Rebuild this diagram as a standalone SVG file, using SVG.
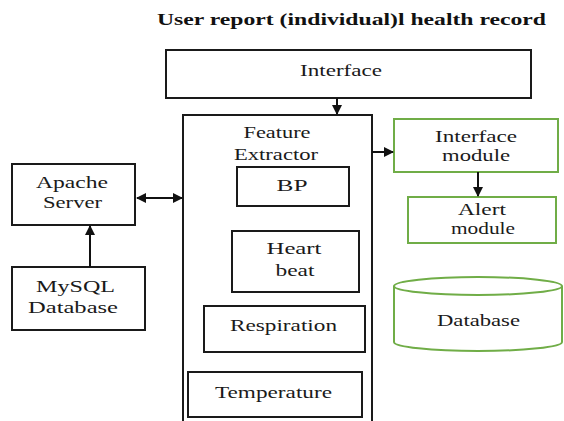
<svg xmlns="http://www.w3.org/2000/svg" width="564" height="421" viewBox="0 0 564 421">
<style>
.box{fill:#fff;stroke:#1a1a1a;stroke-width:2}
.gbox{fill:#fff;stroke:#70ad47;stroke-width:2}
.t{font-family:"Liberation Serif","DejaVu Serif","Times New Roman",serif;font-size:17px;fill:#1a1a1a;text-anchor:middle}
.t2{font-size:16px}
.title{font-family:"Liberation Serif","DejaVu Serif","Times New Roman",serif;font-size:17px;font-weight:bold;fill:#111}
.c{stroke:#111;stroke-width:2;fill:none}
</style>
<defs>
<marker id="ah" viewBox="0 0 10 10" refX="9" refY="5" markerWidth="5" markerHeight="5" orient="auto-start-reverse" markerUnits="strokeWidth">
<path d="M0,0 L10,5 L0,10 Z" fill="#111"/>
</marker>
</defs>
<rect width="564" height="421" fill="#fff"/>
<text class="title" x="157" y="25" textLength="389" lengthAdjust="spacingAndGlyphs">User report (individual)l health record</text>

<g id="interface">
<rect class="box" x="166" y="50" width="365" height="48"/>
<text class="t" x="341" y="76" textLength="82" lengthAdjust="spacingAndGlyphs">Interface</text>
</g>
<g id="feature-extractor">
<rect class="box" x="183" y="115" width="189" height="320"/>
<text class="t" x="277" y="138" textLength="67" lengthAdjust="spacingAndGlyphs">Feature</text>
<text class="t" x="276" y="160" textLength="84" lengthAdjust="spacingAndGlyphs">Extractor</text>
</g>
<g id="bp">
<rect class="box" x="237" y="167" width="112" height="39"/>
<text class="t" x="292" y="191" textLength="31" lengthAdjust="spacingAndGlyphs">BP</text>
</g>
<g id="heart-beat">
<rect class="box" x="232" y="231" width="127" height="61"/>
<text class="t" x="294" y="254" textLength="55" lengthAdjust="spacingAndGlyphs">Heart</text>
<text class="t" x="295" y="276" textLength="39" lengthAdjust="spacingAndGlyphs">beat</text>
</g>
<g id="respiration">
<rect class="box" x="204" y="306" width="161" height="46"/>
<text class="t" x="283.5" y="331" textLength="107" lengthAdjust="spacingAndGlyphs">Respiration</text>
</g>
<g id="temperature">
<rect class="box" x="188" y="372" width="174" height="45"/>
<text class="t" x="273.5" y="398" textLength="117" lengthAdjust="spacingAndGlyphs">Temperature</text>
</g>
<g id="interface-module">
<rect class="gbox" x="394" y="119" width="164" height="53"/>
<text class="t t2" x="476" y="142" textLength="82" lengthAdjust="spacingAndGlyphs">Interface</text>
<text class="t t2" x="476" y="161" textLength="68" lengthAdjust="spacingAndGlyphs">module</text>
</g>
<g id="alert-module">
<rect class="gbox" x="408" y="197" width="148" height="46"/>
<text class="t t2" x="482" y="215" textLength="48" lengthAdjust="spacingAndGlyphs">Alert</text>
<text class="t t2" x="483" y="234" textLength="64" lengthAdjust="spacingAndGlyphs">module</text>
</g>
<g id="database">
<path class="gbox" d="M394,286 L394,342 A84,9 0 0 0 562,342 L562,286"/>
<ellipse class="gbox" cx="478" cy="286" rx="84" ry="9"/>
<text class="t" x="478.5" y="326" textLength="83" lengthAdjust="spacingAndGlyphs">Database</text>
</g>
<g id="apache-server">
<rect class="box" x="12" y="164" width="123" height="61"/>
<text class="t" x="72" y="188" textLength="72" lengthAdjust="spacingAndGlyphs">Apache</text>
<text class="t" x="72.5" y="208" textLength="59" lengthAdjust="spacingAndGlyphs">Server</text>
</g>
<g id="mysql-database">
<rect class="box" x="12" y="267" width="133" height="63"/>
<text class="t" x="75.5" y="292" textLength="79" lengthAdjust="spacingAndGlyphs">MySQL</text>
<text class="t" x="73" y="313" textLength="90" lengthAdjust="spacingAndGlyphs">Database</text>
</g>

<g id="connectors">
<line class="c" x1="337" y1="98" x2="337" y2="114" marker-end="url(#ah)"/>
<line class="c" x1="372" y1="152" x2="393" y2="152" marker-end="url(#ah)"/>
<line class="c" x1="478" y1="172" x2="478" y2="196" marker-end="url(#ah)"/>
<line class="c" x1="137" y1="198" x2="182" y2="198" marker-start="url(#ah)" marker-end="url(#ah)"/>
<line class="c" x1="90" y1="267" x2="90" y2="226" marker-end="url(#ah)"/>
</g>
</svg>
